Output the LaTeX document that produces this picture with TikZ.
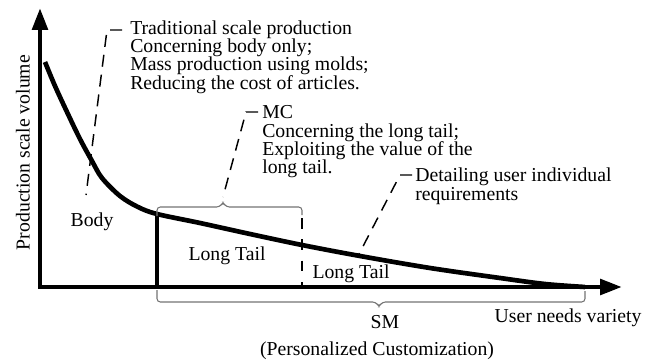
\documentclass[tikz,border=0pt]{standalone}
\usepackage{fontspec}
\setmainfont{Liberation Serif}
\usetikzlibrary{arrows.meta}
\tikzset{
  axisline/.style={line width=3.5pt, line join=miter},
  axistip/.tip={Triangle[length=16.5pt,width=11.5pt]},
  curveline/.style={line width=3.5pt, line cap=butt, line join=round},
  kneeline/.style={line width=3.1pt},
  divline/.style={line width=1.5pt, dash pattern=on 8pt off 8pt},
  leader/.style={line width=1.1pt, dash pattern=on 9pt off 6pt},
  braceline/.style={draw=black!55, line width=0.8pt, rounded corners=2.5pt},
  lbl/.style={font=\fontsize{14.8}{13.75}\selectfont, inner sep=0pt},
  block/.style={lbl, align=left, anchor=north west},
  baselbl/.style={lbl, anchor=base}
}
\begin{document}
\begin{tikzpicture}[x=0.75pt,y=-0.75pt]
\useasboundingbox (0,0) rectangle (657,360);
% axes
\coordinate (ytop) at (40,8);
\coordinate (O) at (40,287);
\coordinate (xend) at (622,287);
% curve
\coordinate (knee) at (157,214);
\draw[curveline] plot[smooth, tension=0.55] coordinates {
  (45,62) (55,86) (67,112) (80,139) (92,161) (102,178) (120,196) (138,207) (157,214)
  (200,223) (250,234) (302,245) (360,256) (430,268) (500,278) (545,284) (585,287)};
\draw[axisline, axistip-axistip] (ytop) -- (O) -- (xend);
\draw[kneeline] (knee) -- (knee |- O);
% divider
\coordinate (divtop) at (302,218);
\draw[divline] (divtop) -- (divtop |- O);
% braces
\draw[braceline] (157,216) -- (157,207) -- (220,207) -- (223,202) -- (226,207) -- (302,207) -- (302,215);
\draw[braceline] (157,290) -- (157,302) -- (376,302) -- (379,307) -- (382,302) -- (585,302) -- (585,291);
% text blocks
\node[block] (trad) at (130,20.1) {Traditional scale production\\Concerning body only;\\Mass production using molds;\\Reducing the cost of articles.};
\node[block] (mc) at (262,105.4) {MC\\Concerning the long tail;\\Exploiting the value of the\\long tail.};
\node[block] (det) at (415,168) {Detailing user individual\\requirements};
% leaders
\coordinate (l1a) at (86,195);
\coordinate (l1b) at (107,30);
\coordinate (l1c) at (122,30);
\draw[leader] (l1c) -- (l1b) -- (l1a);
\coordinate (l2a) at (223,197);
\coordinate (l2b) at (246,112);
\coordinate (l2c) at (258,112);
\draw[leader] (l2c) -- (l2b) -- (l2a);
\coordinate (l3a) at (358,256);
\coordinate (l3b) at (400,175);
\coordinate (l3c) at (412,175);
\draw[leader] (l3c) -- (l3b) -- (l3a);
% labels
\node[lbl, rotate=90] (ylab) at (23,152.5) {Production scale volume};
\node[baselbl] (body) at (92,226.5) {Body};
\node[baselbl] (lt1) at (227,260) {Long Tail};
\node[baselbl] (lt2) at (351,278.5) {Long Tail};
\node[baselbl] (sm) at (385,328) {SM};
\node[baselbl] (pc) at (377,355) {(Personalized Customization)};
\node[baselbl] (unv) at (568,322) {User needs variety};
\end{tikzpicture}
\end{document}
